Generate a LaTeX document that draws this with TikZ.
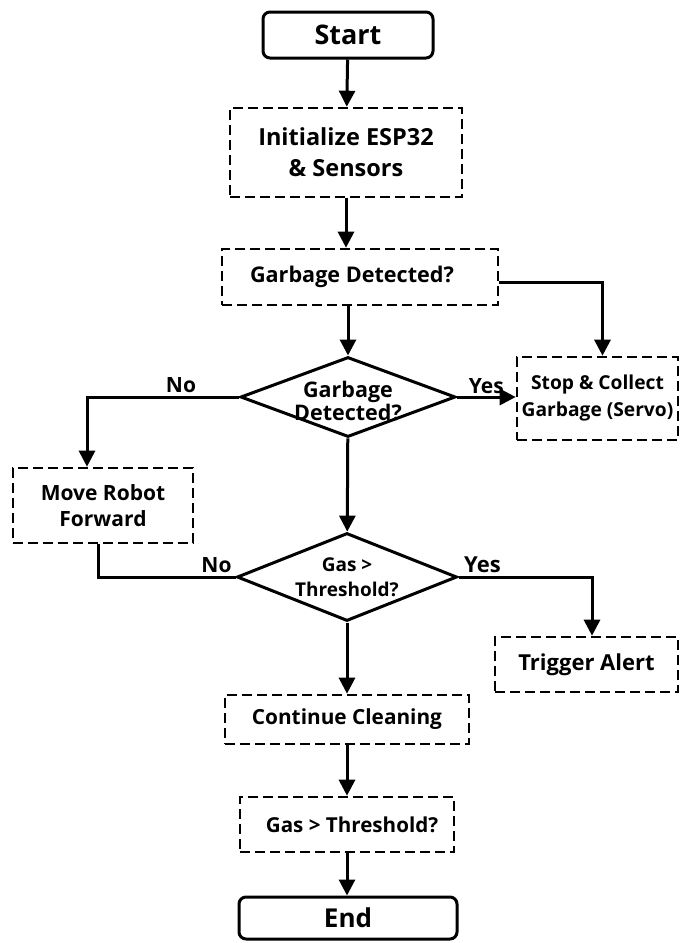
\documentclass[tikz,border=0pt]{standalone}
\usepackage{fontspec}
\setmainfont{Open Sans}
\newfontfamily\boxfont{Open Sans Bold}
\usetikzlibrary{shapes.geometric,arrows.meta,calc}

% bold label text at a given size and line spacing
\newcommand{\bsz}[2]{\boxfont\fontsize{#1}{#2}\selectfont}

\tikzset{
  every node/.style={inner sep=0pt},
  term/.style={draw, line width=3pt, rounded corners=7pt},
  proc/.style={draw, line width=2.6pt, dash pattern=on 10pt off 5pt, align=center},
  decision/.style={draw, diamond, line width=3pt, inner sep=0pt},
  dtext/.style={align=center},
  branch/.style={font=\bsz{21}{24}},
  flow/.style={line width=3pt, -{Triangle[length=16pt,width=16pt]}},
  link/.style={line width=3pt},
}

\begin{document}
\begin{tikzpicture}[x=1pt, y=-1pt]
  \useasboundingbox (0,0) rectangle (680,943);

  % terminals and process steps
  \node[term, minimum width=170pt, minimum height=46pt, font=\bsz{27}{30}] (start) at (348,35) {Start};
  \node[proc, minimum width=232pt, minimum height=89pt, font=\bsz{23.5}{31}] (init) at (346,152.5) {Initialize ESP32\\\& Sensors};
  \node[proc, minimum width=276pt, minimum height=56pt, font=\bsz{21.6}{25}] (gd) at (360,277) {Garbage Detected?\hspace*{16pt}};
  \node[proc, minimum width=161pt, minimum height=83pt, font=\bsz{19.2}{27}] (stop) at (597.5,398.5) {Stop \& Collect\\Garbage (Servo)};
  \node[proc, minimum width=180pt, minimum height=75pt, font=\bsz{21}{26.5}] (move) at (103,505.5) {Move Robot\\Forward};
  \node[proc, minimum width=183pt, minimum height=55pt, font=\bsz{22}{25}] (alert) at (586.5,664.5) {Trigger Alert};
  \node[proc, minimum width=244pt, minimum height=49pt, font=\bsz{20.8}{25}] (cont) at (347,719.5) {Continue Cleaning};
  \node[proc, minimum width=214pt, minimum height=55pt, font=\bsz{20.6}{25}] (gas) at (347,824.5) {\hspace*{10pt}Gas > Threshold?};
  \node[term, minimum width=218pt, minimum height=42pt, font=\bsz{26}{30}] (end) at (348,918) {End};

  % decisions
  \node[decision, minimum width=215pt, minimum height=80pt] (d1) at (348,397) {};
  \node[dtext, font=\bsz{21.5}{23}] at ($(d1)+(0,4)$) {Garbage\\Detected?};
  \node[decision, minimum width=220pt, minimum height=88pt] (d2) at (347,577) {};
  \node[dtext, font=\bsz{19}{25}] at (d2) {Gas >\\Threshold?};

  % main line
  \draw[flow] (start) -- (init);
  \draw[flow] (init) -- (init |- gd.north);
  \draw[flow] (d1.north |- gd.south) -- (d1.north);
  \draw[flow] (d1) -- (d2);
  \draw[flow] (d2) -- (d2 |- cont.north);
  \draw[flow] (cont) -- (cont |- gas.north);
  \draw[flow] (gas) -- (gas |- end.north);

  % side branches
  \coordinate (gdout) at ($(gd.east)+(0,5)$);
  \coordinate (stopin) at ($(stop.north)+(5,0)$);
  \draw[flow] (gdout) -| (stopin);

  \draw[flow] (d1.east) -- (d1.east -| stop.west) node[branch, pos=0.5, above=2pt] {Yes};
  \coordinate (movein) at ($(move.north)+(-16,0)$);
  \draw[flow] (d1.west) -| (movein);
  \node[branch, above=4pt] at ($(d1.west)+(-58,0)$) {No};

  \coordinate (moveout) at ($(move.south)+(-5,0)$);
  \draw[link] (moveout) |- (d2.west);
  \node[branch, above=4pt] at ($(d2.west)+(-19,0)$) {No};

  \coordinate (alertin) at ($(alert.north)+(5.5,0)$);
  \draw[flow] (d2.east) -| (alertin);
  \node[branch, above=4pt, font=\bsz{22}{24}] at ($(d2.east)+(24,0)$) {Yes};
\end{tikzpicture}
\end{document}
